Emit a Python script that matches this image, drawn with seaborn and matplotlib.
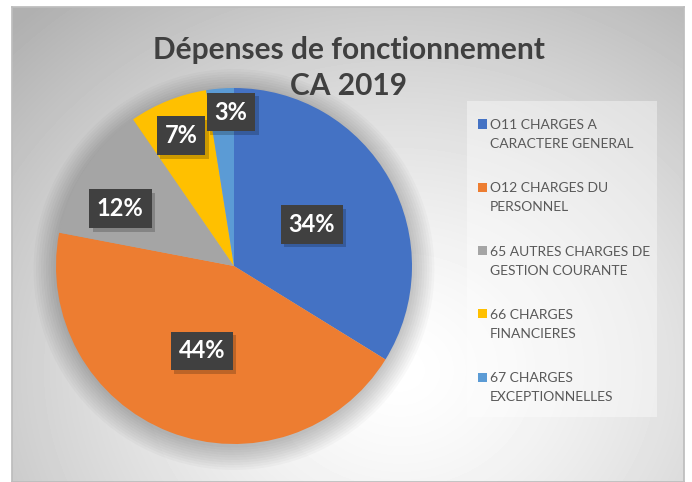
import numpy as np
import matplotlib
matplotlib.use("Agg")
import matplotlib.pyplot as plt
import matplotlib.patheffects as pe
import seaborn as sns
from matplotlib.patches import Rectangle, Circle

# données
categories = ["O11 CHARGES A\nCARACTERE GENERAL",
              "O12 CHARGES DU\nPERSONNEL",
              "65 AUTRES CHARGES DE\nGESTION COURANTE",
              "66 CHARGES\nFINANCIERES",
              "67 CHARGES\nEXCEPTIONNELLES"]
shares = [33.8, 44.2, 12.4, 7.1, 2.5]
pct_labels = ["34%", "44%", "12%", "7%", "3%"]
colors = ["#4472C4", "#ED7D31", "#A5A5A5", "#FFC000", "#5B9BD5"]

sns.set_theme(style="white")
plt.rcParams["font.family"] = ["Lato", "DejaVu Sans"]

W, H = 692, 482
fig = plt.figure(figsize=(W / 100, H / 100), dpi=100)
fig.patch.set_facecolor("white")

# fond dégradé radial
bg = fig.add_axes([12 / W, 0, 672 / W, 475 / H])
yy, xx = np.mgrid[0:475, 0:672]
d = np.hypot((xx + 12 - 400) / 460, (yy + 7 - 370) / 400)
g = 1 - 0.24 * np.clip(d, 0, 1.2) ** 1.4
bg.imshow(g, cmap="gray", vmin=0, vmax=1, aspect="auto", interpolation="bilinear")
bg.set_xticks([]); bg.set_yticks([])
for s in bg.spines.values():
    s.set_color("#bdbdbd")

# camembert
cx, cy, R = 234, 266, 178
ax = fig.add_axes([(cx - R) / W, (H - cy - R) / H, 2 * R / W, 2 * R / H])
ax.patch.set_alpha(0)
for i in range(10):
    ax.add_patch(Circle((0.0, -0.02), 1 + 0.014 * i, color="black", alpha=0.022,
                        zorder=0, clip_on=False, lw=0))
wedges, _ = ax.pie(shares, colors=colors, startangle=90, counterclock=False,
                   radius=1, wedgeprops=dict(linewidth=0))
ax.set_xlim(-1, 1)
ax.set_ylim(-1, 1)

# étiquettes : distance au centre et petit décalage angulaire (placement Excel)
dist = [0.5, 0.5, 0.72, 0.8, 0.876]
shift = [0, 0, 5.6, 0, -3.4]
for w, lab, dd, sh in zip(wedges, pct_labels, dist, shift):
    mid = np.deg2rad((w.theta1 + w.theta2) / 2 + sh)
    x, y = dd * np.cos(mid), dd * np.sin(mid)
    t = ax.text(x, y, lab, color="white", fontsize=17, fontweight="bold",
                ha="center", va="center_baseline",
                bbox=dict(boxstyle="square,pad=0.33", fc="#404040", lw=0))
    t.get_bbox_patch().set_path_effects(
        [pe.SimplePatchShadow(offset=(2.5, -2.5), shadow_rgbFace="black", alpha=0.2),
         pe.Normal()])

# titre
fig.text(0.504, 1 - 50 / H, "Dépenses de fonctionnement", ha="center", va="center",
         fontsize=21.5, fontweight="bold", color="#404040")
fig.text(0.504, 1 - 86 / H, "CA 2019", ha="center", va="center",
         fontsize=21.5, fontweight="bold", color="#404040")

# légende
fig.patches.append(Rectangle((467 / W, 1 - 417 / H), 190 / W, 316 / H,
                             transform=fig.transFigure, fc="white", alpha=0.4, lw=0))
for i, (lab, c) in enumerate(zip(categories, colors)):
    yc = 124 + i * 63.3
    fig.patches.append(Rectangle((478 / W, 1 - (yc + 4.5) / H), 9 / W, 9 / H,
                                 transform=fig.transFigure, fc=c, lw=0))
    for j, line in enumerate(lab.split("\n")):
        fig.text(490 / W, 1 - (yc + 19 * j) / H, line, ha="left", va="center_baseline",
                 fontsize=10, color="#595959")

fig.savefig("out.png", dpi=100)
